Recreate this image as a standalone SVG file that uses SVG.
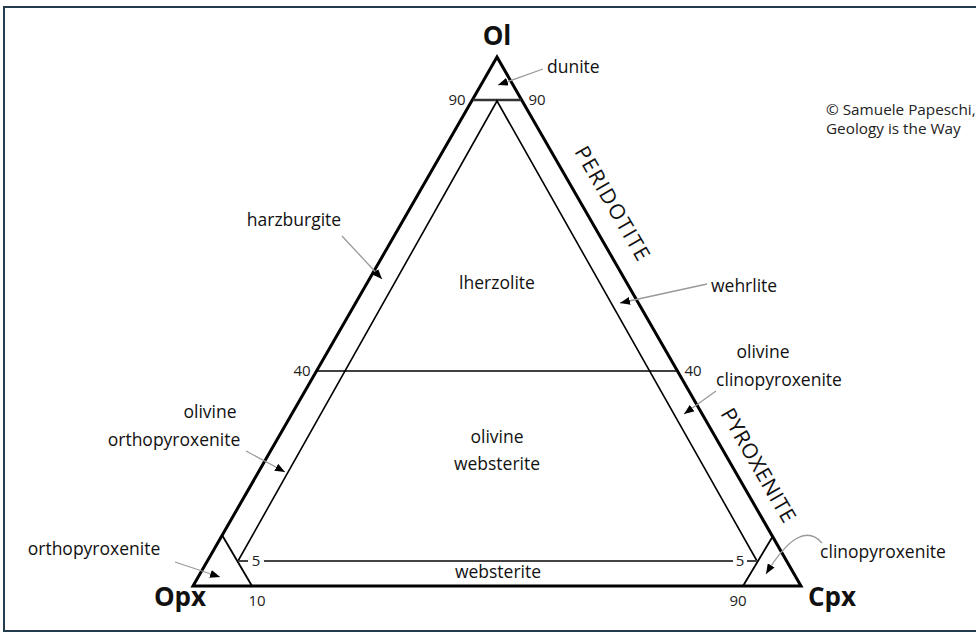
<svg xmlns="http://www.w3.org/2000/svg" width="976" height="638" viewBox="0 0 976 638">
<style>
.t{font-family:"Open Sans","Liberation Sans",sans-serif;fill:#111;}
.lab{font-size:17.5px;}
.num{font-size:15px;fill:#222;}
.vert{font-size:26px;font-weight:bold;}
.big{font-size:21px;}
.arr{fill:none;stroke:#999;stroke-width:1.3;marker-end:url(#ah);}
</style>
<defs>
<marker id="ah" viewBox="0 0 10 8" refX="10" refY="4" markerWidth="10" markerHeight="8" markerUnits="userSpaceOnUse" orient="auto">
<path d="M0,0 L10,4 L0,8 z" fill="#000"/>
</marker>
</defs>
<rect x="0" y="0" width="976" height="638" fill="#fff"/>
<rect x="4" y="7" width="990" height="624" fill="none" stroke="#223c4e" stroke-width="2"/>
<g id="diagram-lines">
<polygon points="497,57 193,586 801,586" fill="none" stroke="#000" stroke-width="3" stroke-linejoin="miter"/>
<line x1="473" y1="100" x2="521" y2="100" stroke="#333" stroke-width="2.5"/>
<polyline points="238,561 497,101 757,561" fill="none" stroke="#000" stroke-width="1.6"/>
<line x1="317" y1="371" x2="677" y2="371" stroke="#000" stroke-width="1.6"/>
<line x1="222" y1="535" x2="252" y2="586" stroke="#000" stroke-width="1.8"/>
<line x1="773" y1="536" x2="743" y2="586" stroke="#000" stroke-width="1.8"/>
<line x1="238" y1="561" x2="248" y2="561" stroke="#444" stroke-width="2"/>
<line x1="264" y1="561" x2="733" y2="561" stroke="#444" stroke-width="2"/>
<line x1="747" y1="561" x2="757" y2="561" stroke="#444" stroke-width="2"/>
</g>
<g id="connectors">
<line class="arr" x1="543" y1="69" x2="498" y2="85"/>
<line class="arr" x1="342" y1="236" x2="382" y2="279"/>
<line class="arr" x1="707" y1="284" x2="620" y2="303"/>
<line class="arr" x1="716" y1="391" x2="684" y2="414"/>
<line class="arr" x1="246" y1="451" x2="285" y2="472"/>
<line class="arr" x1="175" y1="562" x2="220" y2="577"/>
<path class="arr" d="M822,543 Q800,518 766,574"/>
</g>
<g id="node-ol"><text class="t vert" x="497" y="45" text-anchor="middle">Ol</text></g>
<g id="node-opx"><text class="t vert" x="180" y="606" text-anchor="middle">Opx</text></g>
<g id="node-cpx"><text class="t vert" x="832" y="606" text-anchor="middle">Cpx</text></g>
<g id="ticks">
<text class="t num" x="457" y="105" text-anchor="middle">90</text>
<text class="t num" x="537" y="105" text-anchor="middle">90</text>
<text class="t num" x="302" y="376" text-anchor="middle">40</text>
<text class="t num" x="693" y="376" text-anchor="middle">40</text>
<text class="t num" x="256" y="566" text-anchor="middle">5</text>
<text class="t num" x="740" y="566" text-anchor="middle">5</text>
<text class="t num" x="257" y="606" text-anchor="middle">10</text>
<text class="t num" x="738" y="606" text-anchor="middle">90</text>
</g>
<g id="node-dunite"><text class="t lab" x="547" y="73">dunite</text></g>
<g id="node-harzburgite"><text class="t lab" x="294" y="226" text-anchor="middle">harzburgite</text></g>
<g id="node-lherzolite"><text class="t lab" x="497" y="289" text-anchor="middle">lherzolite</text></g>
<g id="node-wehrlite"><text class="t lab" x="711" y="292">wehrlite</text></g>
<g id="node-olcpx"><text class="t lab" x="763" y="358" text-anchor="middle">olivine</text><text class="t lab" x="779" y="386" text-anchor="middle">clinopyroxenite</text></g>
<g id="node-olopx"><text class="t lab" x="210" y="418" text-anchor="middle">olivine</text><text class="t lab" x="174" y="446" text-anchor="middle">orthopyroxenite</text></g>
<g id="node-olweb"><text class="t lab" x="497" y="443" text-anchor="middle">olivine</text><text class="t lab" x="497" y="470" text-anchor="middle">websterite</text></g>
<g id="node-websterite"><text class="t lab" x="498" y="578" text-anchor="middle">websterite</text></g>
<g id="node-opx-rock"><text class="t lab" x="94" y="555" text-anchor="middle">orthopyroxenite</text></g>
<g id="node-cpx-rock"><text class="t lab" x="883" y="558" text-anchor="middle">clinopyroxenite</text></g>
<g id="node-peridotite"><text class="t big" transform="translate(606,207) rotate(60)" text-anchor="middle" textLength="128" lengthAdjust="spacing">PERIDOTITE</text></g>
<g id="node-pyroxenite"><text class="t big" transform="translate(752,469) rotate(60)" text-anchor="middle" textLength="128" lengthAdjust="spacing">PYROXENITE</text></g>
<g id="credit"><text class="t" style="font-size:15.3px;fill:#222" x="826" y="115">© Samuele Papeschi,</text><text class="t" style="font-size:15.3px;fill:#222" x="826" y="134">Geology is the Way</text></g>
</svg>
